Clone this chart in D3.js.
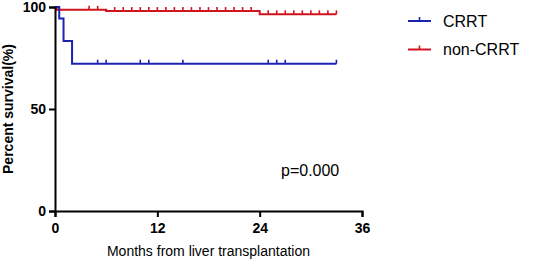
<!DOCTYPE html>
<html>
<head>
<meta charset="utf-8">
<script src="https://cdn.jsdelivr.net/npm/d3@7"></script>
<style>
  body { margin: 0; background: #fff; }
  svg text { font-family: Arial, "Liberation Sans", sans-serif; }
</style>
</head>
<body>
<svg id="chart"></svg>
<script>
// Kaplan-Meier step points (month, percent survival)
const crrtTimes = [0, 0.5, 1, 2, 33];
const crrtSurv = [100, 94.4, 83.3, 72.2, 72.2];
const crrtCensored = [5, 6, 10, 11, 15, 25, 26, 27, 33];

const nonTimes = [0, 0.2, 6, 24, 33];
const nonSurv = [100, 98.6, 98.0, 96.4, 96.4];
const nonCensored = [4, 5, 7, 8, 9, 10, 11, 12, 13, 14, 15, 16, 17, 18, 19, 20, 21, 22, 23,
                     25, 26, 27, 28, 29, 30, 31, 32, 33];

const xTicks = [0, 12, 24, 36];
const yTicks = [0, 50, 100];

const series = [
  { name: "CRRT", times: crrtTimes, surv: crrtSurv, cens: crrtCensored, color: "#1c22b0" },
  { name: "non-CRRT", times: nonTimes, surv: nonSurv, cens: nonCensored, color: "#d0141e" }
];

const width = 536, height = 265;
const margin = { top: 7, left: 55, right: 174, bottom: 54 };
const innerW = width - margin.left - margin.right;
const innerH = height - margin.top - margin.bottom;

const svg = d3.select("#chart").attr("width", width).attr("height", height);
const g = svg.append("g").attr("transform", `translate(${margin.left},${margin.top})`);

const x = d3.scaleLinear().domain([0, 36]).range([0, innerW]);
const y = d3.scaleLinear().domain([0, 100]).range([innerH, 0]);

// survival value at time t (step function)
function survAt(s, t) {
  let v = s.surv[0];
  s.times.forEach((tm, i) => { if (tm <= t) v = s.surv[i]; });
  return v;
}

const line = d3.line()
  .x(d => x(d[0]))
  .y(d => y(d[1]))
  .curve(d3.curveStepAfter);

// draw red first so blue sits on top at the start
series.slice().reverse().forEach(s => {
  const pts = s.times.map((t, i) => [t, s.surv[i]]);
  g.append("path")
    .datum(pts)
    .attr("fill", "none")
    .attr("stroke", s.color)
    .attr("stroke-width", 2)
    .attr("d", line);

  g.selectAll(null)
    .data(s.cens)
    .join("line")
    .attr("x1", d => x(d)).attr("x2", d => x(d))
    .attr("y1", d => y(survAt(s, d)))
    .attr("y2", d => y(survAt(s, d)) - 4)
    .attr("stroke", s.color)
    .attr("stroke-width", 1.6);
});

// axes
const xAxis = g.append("g")
  .attr("transform", `translate(0,${innerH})`)
  .call(d3.axisBottom(x).tickValues(xTicks).tickSize(6).tickPadding(6));
const yAxis = g.append("g")
  .call(d3.axisLeft(y).tickValues(yTicks).tickSize(6).tickPadding(3));

[xAxis, yAxis].forEach(a => {
  a.select(".domain").attr("stroke", "#000").attr("stroke-width", 2);
  a.selectAll(".tick line").attr("stroke", "#000").attr("stroke-width", 2);
  a.selectAll(".tick text")
    .attr("fill", "#000")
    .style("font-size", "14px")
    .style("font-weight", "bold")
    .style("font-family", "Arial, 'Liberation Sans', sans-serif");
});

// axis titles
g.append("text")
  .attr("x", innerW / 2)
  .attr("y", innerH + 45)
  .attr("text-anchor", "middle")
  .style("font-size", "14px")
  .text("Months from liver transplantation");

g.append("text")
  .attr("transform", "rotate(-90)")
  .attr("x", -innerH / 2)
  .attr("y", -42)
  .attr("text-anchor", "middle")
  .style("font-size", "14px")
  .style("font-weight", "bold")
  .text("Percent survival(%)");

// p value
g.append("text")
  .attr("x", x(26.5))
  .attr("y", y(20) + 6)
  .style("font-size", "16px")
  .text("p=0.000");

// legend
const legend = svg.append("g").attr("transform", "translate(408,21)");
series.forEach((s, i) => {
  const row = legend.append("g").attr("transform", `translate(0,${i * 28.5})`);
  row.append("line")
    .attr("x1", 0).attr("x2", 23).attr("y1", 0).attr("y2", 0)
    .attr("stroke", s.color).attr("stroke-width", 2);
  row.append("line")
    .attr("x1", 11.5).attr("x2", 11.5).attr("y1", 0).attr("y2", -4)
    .attr("stroke", s.color).attr("stroke-width", 1.6);
  row.append("text")
    .attr("x", 35)
    .attr("y", 0)
    .attr("dy", "0.36em")
    .style("font-size", "16px")
    .text(s.name);
});
</script>
</body>
</html>
